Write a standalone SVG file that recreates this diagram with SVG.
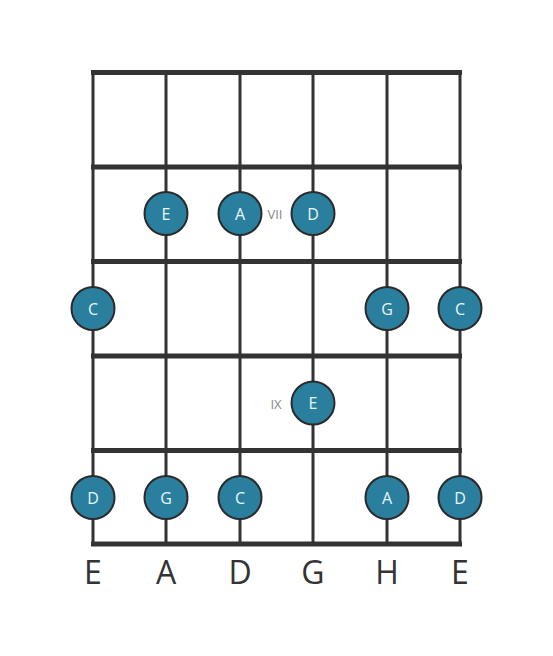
<svg xmlns="http://www.w3.org/2000/svg" width="553" height="656" viewBox="0 0 553 656">
<style>
.str{stroke:#333;stroke-width:3}
.fret{stroke:#333;stroke-width:5}
.dot circle{fill:#2a7f9e;stroke:#2a2a2a;stroke-width:2}
.dot text{fill:#e8f6fa;font-family:"Open Sans",sans-serif;font-size:16px;text-anchor:middle;dominant-baseline:central}
.pos{fill:#888;font-family:"Open Sans",sans-serif;font-size:13px;text-anchor:middle;dominant-baseline:central}
.tun{fill:#333;font-family:"Open Sans",sans-serif;font-size:32px;text-anchor:middle}
</style>
<rect width="553" height="656" fill="#fff"/>
<g id="grid">
<line class="str" x1="93" y1="72" x2="93" y2="544"/>
<line class="str" x1="166" y1="72" x2="166" y2="544"/>
<line class="str" x1="240" y1="72" x2="240" y2="544"/>
<line class="str" x1="313" y1="72" x2="313" y2="544"/>
<line class="str" x1="387" y1="72" x2="387" y2="544"/>
<line class="str" x1="460" y1="72" x2="460" y2="544"/>
<line class="fret" x1="91" y1="72.5" x2="462" y2="72.5"/>
<line class="fret" x1="91" y1="167" x2="462" y2="167"/>
<line class="fret" x1="91" y1="261.5" x2="462" y2="261.5"/>
<line class="fret" x1="91" y1="356" x2="462" y2="356"/>
<line class="fret" x1="91" y1="450.5" x2="462" y2="450.5"/>
<line class="fret" x1="91" y1="544" x2="462" y2="544"/>
</g>
<g id="positions">
<text class="pos" x="275" y="214">VII</text>
<text class="pos" x="276" y="404">IX</text>
</g>
<g id="n1" class="dot"><circle cx="166" cy="213.5" r="21.5"/><text x="166" y="213.5">E</text></g>
<g id="n2" class="dot"><circle cx="240" cy="213.5" r="21.5"/><text x="240" y="213.5">A</text></g>
<g id="n3" class="dot"><circle cx="313" cy="213.5" r="21.5"/><text x="313" y="213.5">D</text></g>
<g id="n4" class="dot"><circle cx="93" cy="308.5" r="21.5"/><text x="93" y="308.5">C</text></g>
<g id="n5" class="dot"><circle cx="387" cy="308.5" r="21.5"/><text x="387" y="308.5">G</text></g>
<g id="n6" class="dot"><circle cx="460" cy="308.5" r="21.5"/><text x="460" y="308.5">C</text></g>
<g id="n7" class="dot"><circle cx="313" cy="403" r="21.5"/><text x="313" y="403">E</text></g>
<g id="n8" class="dot"><circle cx="93" cy="497.5" r="21.5"/><text x="93" y="497.5">D</text></g>
<g id="n9" class="dot"><circle cx="166" cy="497.5" r="21.5"/><text x="166" y="497.5">G</text></g>
<g id="n10" class="dot"><circle cx="240" cy="497.5" r="21.5"/><text x="240" y="497.5">C</text></g>
<g id="n11" class="dot"><circle cx="387" cy="497.5" r="21.5"/><text x="387" y="497.5">A</text></g>
<g id="n12" class="dot"><circle cx="460" cy="497.5" r="21.5"/><text x="460" y="497.5">D</text></g>
<g id="tuning">
<text class="tun" x="93" y="584">E</text>
<text class="tun" x="166" y="584">A</text>
<text class="tun" x="240" y="584">D</text>
<text class="tun" x="313" y="584">G</text>
<text class="tun" x="387" y="584">H</text>
<text class="tun" x="460" y="584">E</text>
</g>
</svg>
